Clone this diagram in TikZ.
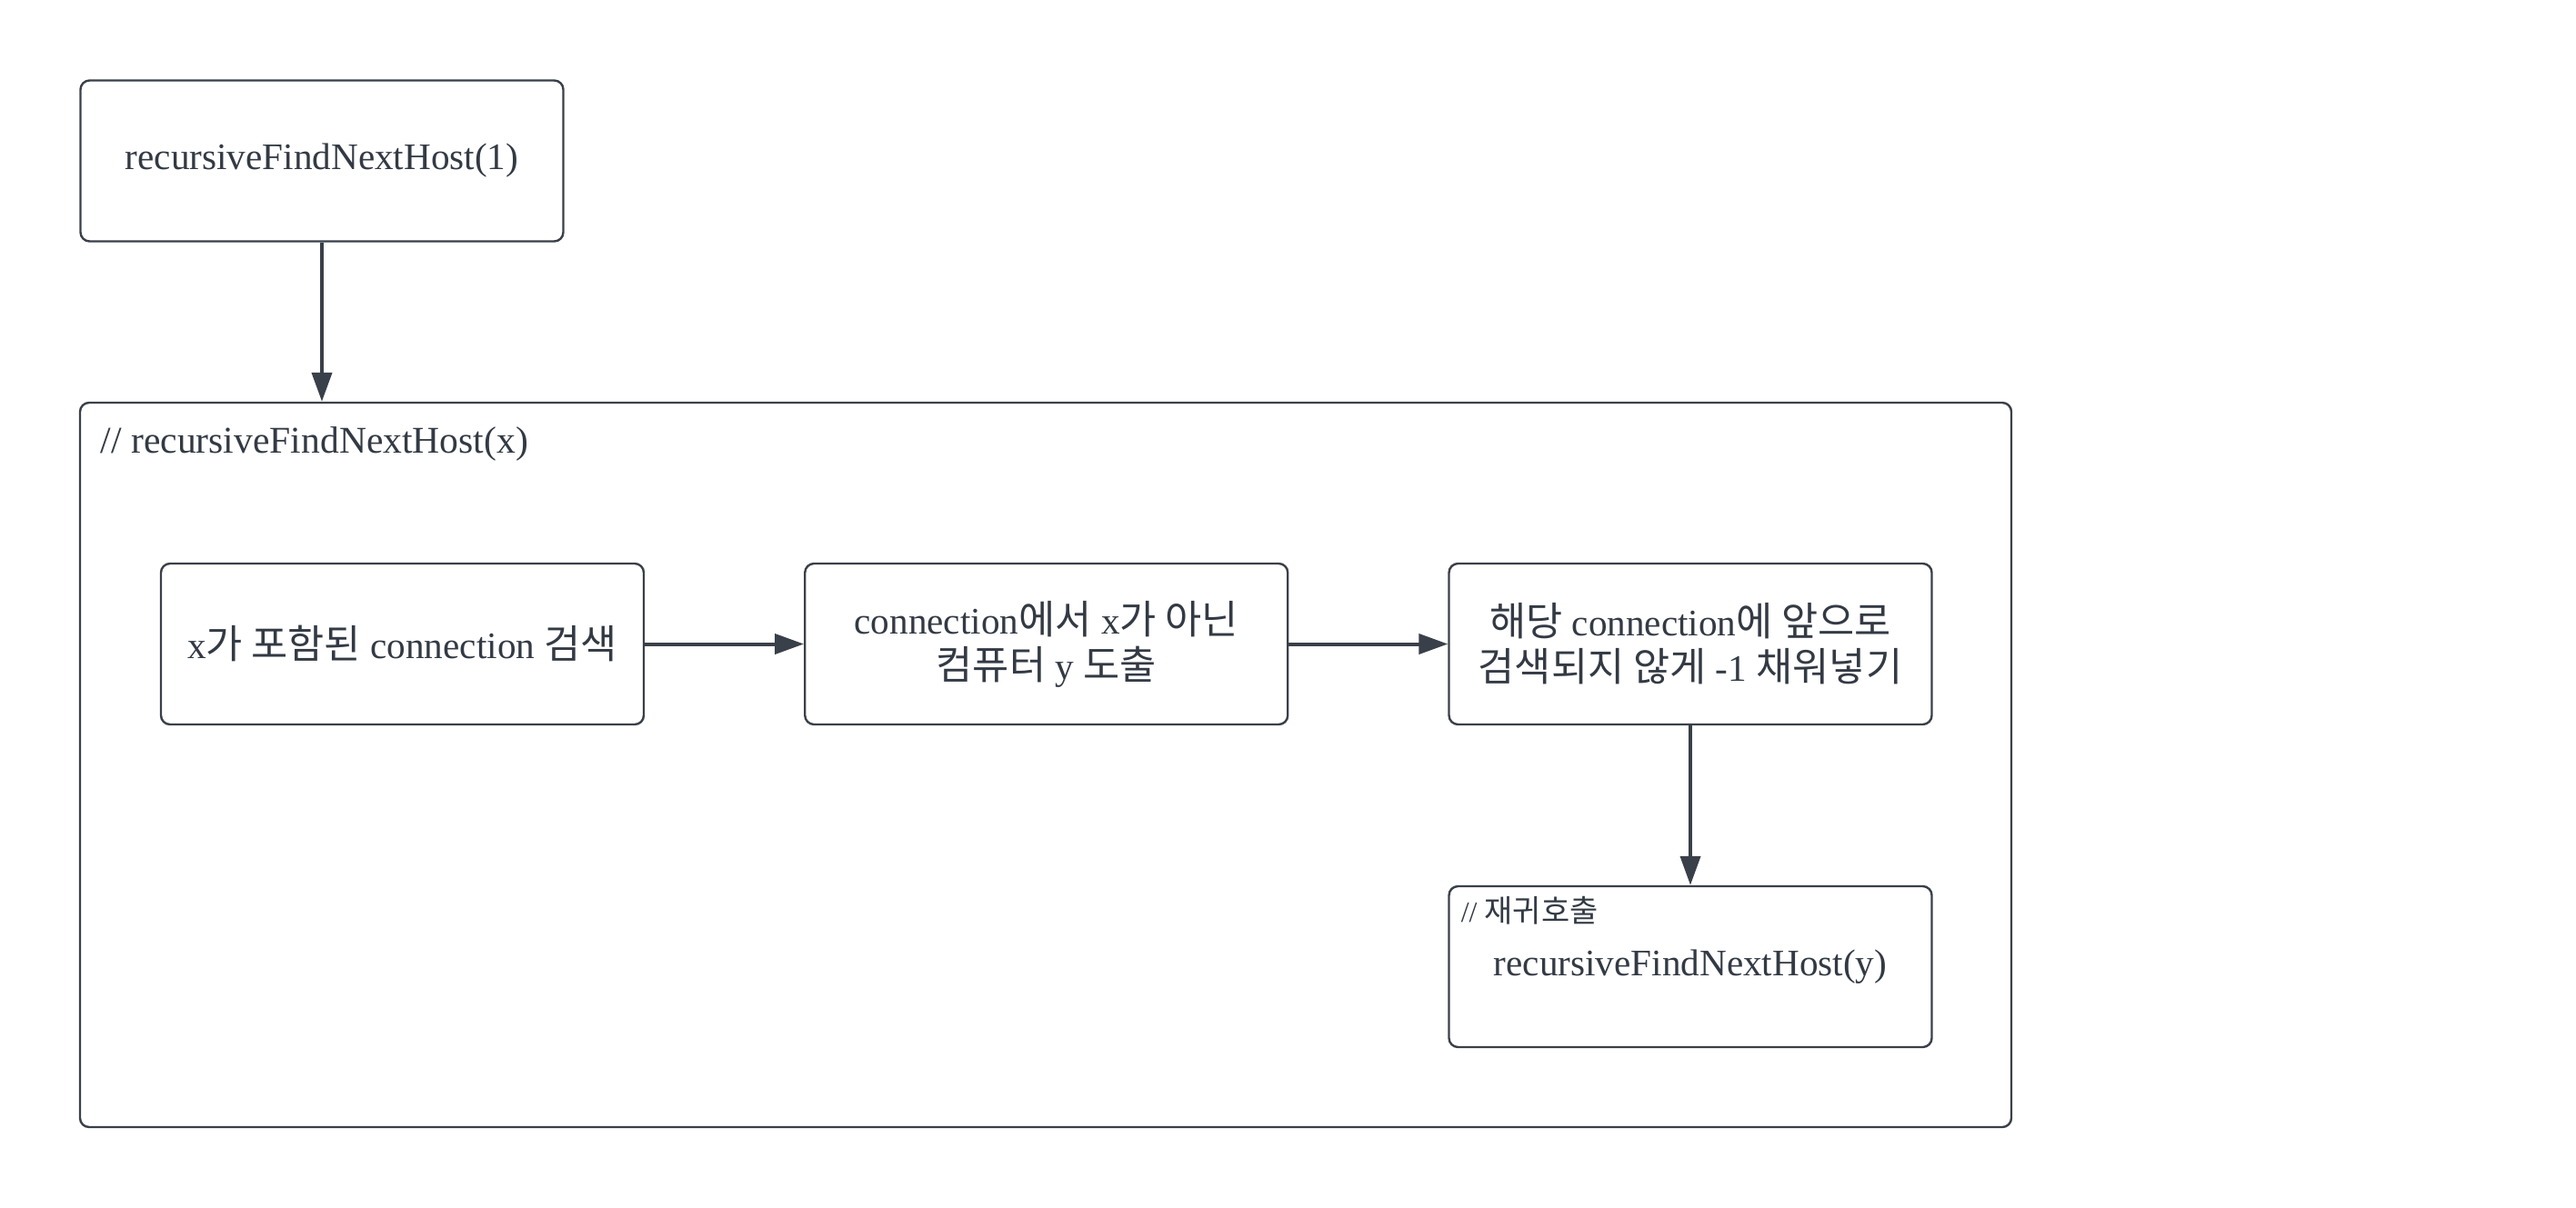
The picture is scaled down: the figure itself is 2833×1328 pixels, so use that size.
\documentclass[tikz,border=0pt]{standalone}
\usepackage{fontspec}
\setmainfont{Liberation Serif}
\newfontfamily\kr{Noto Sans CJK KR}[Scale=1.06]
\usetikzlibrary{arrows.meta,positioning}
\definecolor{linec}{HTML}{3A4049}
\definecolor{textc}{HTML}{333A44}
\tikzset{
  box/.style={draw=linec, line width=0.6pt, rounded corners=2.5pt, inner sep=0pt,
    minimum width=132.75pt, minimum height=44.25pt, align=center, text=textc,
    font=\fontsize{10.3}{12.5}\selectfont},
  frame/.style={draw=linec, line width=0.6pt, rounded corners=2.5pt, inner sep=0pt,
    minimum width=531pt, minimum height=199.25pt},
  conn/.style={draw=linec, line width=1pt, -{Triangle[length=8pt,width=5.5pt]}},
  lbl/.style={inner sep=0pt, anchor=west, text=textc}
}
\begin{document}
\begin{tikzpicture}[x=0.25pt,y=-0.25pt]
\useasboundingbox (0,0) rectangle (2833,1328);
\node[frame] (big) at (1150,841.5) {};
\node[lbl, font=\fontsize{10.4}{12.5}\selectfont] (biglbl) at (110,488) {// recursiveFindNextHost(x)};
\node[box] (top) at (354,177) {recursiveFindNextHost(1)};
\node[box] (b1) at (442.5,708.5) {\raisebox{1.2pt}{x{\kr 가 포함된} connection {\kr 검색}}};
\node[box] (b2) at (1150.75,708.5) {connection{\kr 에서} x{\kr 가 아닌}\\{\kr 컴퓨터} y {\kr 도출}};
\node[box] (b3) at (1859,708.5) {{\kr 해당} connection{\kr 에 앞으로}\\{\kr 검색되지 않게} -1 {\kr 채워넣기}};
\node[box] (b4) at (1859,1063.5) {recursiveFindNextHost(y)};
\node[lbl, font=\fontsize{8}{9}\selectfont] (b4lbl) at (1606,1002) {// {\kr 재귀호출}};
\draw[conn] (top.south) -- (top.south |- big.north);
\draw[conn] (b1.east) -- (b2.west);
\draw[conn] (b2.east) -- (b3.west);
\draw[conn] (b3.south) -- (b4.north);
\end{tikzpicture}
\end{document}
